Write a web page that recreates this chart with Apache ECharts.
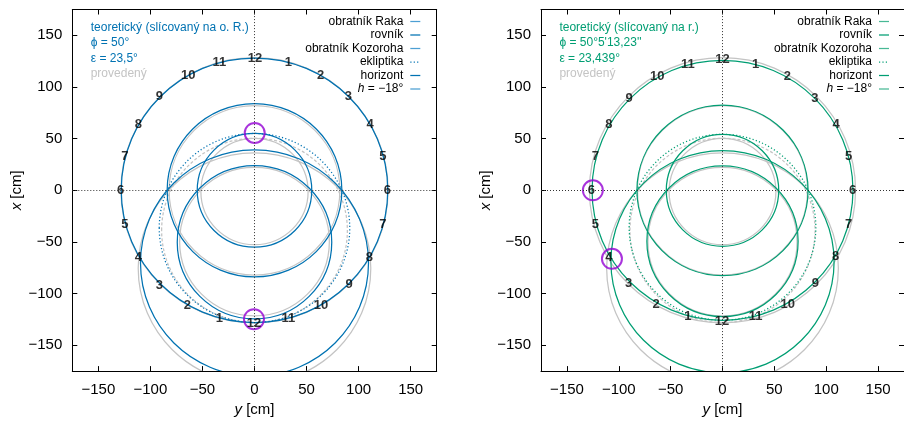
<!DOCTYPE html>
<html><head><meta charset="utf-8">
<script src="https://cdn.jsdelivr.net/npm/echarts@6/dist/echarts.min.js"></script>
<style>html,body{margin:0;padding:0;background:#fff}#c{width:904px;height:422px}</style>
</head><body><div id="c"></div>
<script>
// ---------- data (cm) ----------
const tickValues = [-150, -100, -50, 0, 50, 100, 150];
const circleNames = ['obratník Raka', 'rovník', 'obratník Kozoroha', 'ekliptika', 'horizont', 'h = −18°'];
// circle centres lie on the vertical (x) axis; [centre x, radius]
const leftCenters  = [0, 0, 0, -36.5, -70.4, -50.2];
const leftRadii    = [128.0, 83.9, 55.0, 91.5, 109.5, 74.2];
const rightCenters = [0, 0, 0, -35.8, -69.1, -49.3];
const rightRadii   = [125.8, 82.5, 54.2, 90.0, 107.6, 72.9];
const grayCenters  = [0, 0, -1.2, -38.8, -75.4, -49.7];
const grayRadii    = [128.3, 82.0, 51.5, 89.2, 111.7, 71.9];
const dottedFlags  = [0, 0, 0, 1, 0, 0];

// hour numerals, clockwise from top
const hourText = ['12','1','2','3','4','5','6','7','8','9','10','11','12','1','2','3','4','5','6','7','8','9','10','11'];
const leftHourY  = [0.5, 32.5, 63.6, 90.1, 111.0, 123.2, 127.6, 123.2, 110.3, 90.8, 63.9, 32.5, -0.5, -33.8, -64.6, -91.4, -111.6, -124.4, -128.5, -124.4, -111.6, -91.4, -63.6, -33.8];
const leftHourX  = [127.3, 123.4, 111.2, 90.4, 64.2, 33.1, -0.5, -33.5, -64.8, -91.2, -111.3, -124.1, -128.6, -124.1, -111.3, -91.7, -64.8, -33.5, -0.5, 33.1, 64.2, 90.4, 111.2, 123.4];
const rightHourY = [0.0, 32.0, 62.5, 89.0, 109.5, 121.5, 125.5, 121.5, 109.0, 89.5, 63.0, 32.0, -0.5, -33.5, -64.0, -90.5, -109.5, -122.5, -126.5, -122.5, -109.5, -90.0, -63.0, -33.5];
const rightHourX = [126.5, 122.0, 110.0, 89.0, 63.5, 33.0, -0.5, -33.0, -64.0, -90.0, -110.0, -122.5, -127.0, -122.5, -110.0, -90.0, -65.0, -33.0, -0.5, 33.0, 63.5, 89.0, 110.0, 122.0];

// highlighted spots [y, x]
const leftMarkY = [0.2, -0.5];
const leftMarkX = [55.5, -124.8];
const rightMarkY = [-125.0, -106.6];
const rightMarkX = [0.0, -66.3];

// ---------- build ----------
const BLUE = '#0072B2', GREEN = '#009E73', GRAY = '#c4c4c4';
const fmt = v => v < 0 ? '\u2212' + Math.abs(v) : String(v);

function circleRows(centers, radii) {
  return centers.map((c, i) => [0, c, radii[i], dottedFlags[i]]);
}
function circleRender(color, dash) {
  return function (params, api) {
    const p = api.coord([api.value(0), api.value(1)]);
    const s = api.size([api.value(2), api.value(2)]);
    const dotted = api.value(3) === 1;
    return {
      type: 'ellipse',
      shape: { cx: p[0], cy: p[1], rx: s[0], ry: s[1] },
      style: { fill: null, stroke: color, lineWidth: 1.25, lineDash: dotted ? dash : null }
    };
  };
}
function hourData(ys, xs) {
  return hourText.map((t, i) => ({ name: t, value: [ys[i], xs[i]] }));
}
function markData(ys, xs) { return ys.map((y, i) => [y, xs[i]]); }

const grids = [
  { left: 72.3, top: 9.5, width: 364.4, height: 364 },
  { left: 541, top: 9.5, width: 364.4, height: 364 }
];
const axisCommon = {
  type: 'value', min: -175, max: 175,
  axisLine: { show: true, onZero: false, lineStyle: { color: '#000', width: 1 } },
  axisTick: { show: true, inside: true, length: 5, lineStyle: { color: '#000' }, customValues: tickValues },
  splitLine: { show: false }
};
const xAxes = [], yAxes = [];
[0, 1].forEach(g => {
  xAxes.push(Object.assign({}, axisCommon, {
    gridIndex: g, position: 'bottom',
    axisLabel: { customValues: tickValues, formatter: fmt, fontSize: 15, color: '#000', fontFamily: 'Liberation Sans', margin: 11 },
    name: '{i|y} [cm]', nameLocation: 'middle', nameGap: 30,
    nameTextStyle: { fontSize: 15, color: '#000', fontFamily: 'Liberation Sans', rich: { i: { fontStyle: 'italic', fontSize: 15, fontFamily: 'Liberation Sans' } } }
  }));
  xAxes.push(Object.assign({}, axisCommon, { gridIndex: g, position: 'top', axisLabel: { show: false } }));
  yAxes.push(Object.assign({}, axisCommon, {
    gridIndex: g, position: 'left',
    axisLabel: { customValues: tickValues, formatter: fmt, fontSize: 15, color: '#000', fontFamily: 'Liberation Sans', margin: 10 },
    name: '{i|x} [cm]', nameLocation: 'middle', nameGap: 48,
    nameTextStyle: { fontSize: 15, color: '#000', fontFamily: 'Liberation Sans', rich: { i: { fontStyle: 'italic', fontSize: 15, fontFamily: 'Liberation Sans' } } }
  }));
  yAxes.push(Object.assign({}, axisCommon, { gridIndex: g, position: 'right', axisLabel: { show: false } }));
});

const series = [];
[0, 1].forEach(g => {
  const xi = g * 2, yi = g * 2;
  const color = g === 0 ? BLUE : GREEN;
  series.push({
    type: 'line', xAxisIndex: xi, yAxisIndex: yi, data: [], silent: true,
    markLine: { symbol: 'none', silent: true, label: { show: false },
      lineStyle: { type: [1, 2], color: '#333', width: 1 },
      data: [{ xAxis: 0 }, { yAxis: 0 }] }
  });
  series.push({
    type: 'custom', xAxisIndex: xi, yAxisIndex: yi, clip: true, silent: true,
    renderItem: circleRender(GRAY, [3, 2]), data: circleRows(grayCenters, grayRadii)
  });
  series.push({
    type: 'custom', xAxisIndex: xi, yAxisIndex: yi, clip: true, silent: true,
    renderItem: circleRender(color, [1.2, 2.2]),
    data: g === 0 ? circleRows(leftCenters, leftRadii) : circleRows(rightCenters, rightRadii)
  });
  series.push({
    type: 'scatter', xAxisIndex: xi, yAxisIndex: yi, symbolSize: 1, silent: true,
    itemStyle: { color: 'rgba(0,0,0,0)' },
    label: { show: true, position: 'inside', formatter: '{b}', color: '#000', fontWeight: 'bold', fontSize: 13, fontFamily: 'Liberation Sans' },
    data: g === 0 ? hourData(leftHourY, leftHourX) : hourData(rightHourY, rightHourX)
  });
  series.push({
    type: 'scatter', xAxisIndex: xi, yAxisIndex: yi, symbol: 'circle', symbolSize: 20, silent: true,
    itemStyle: { color: 'rgba(0,0,0,0)', borderColor: '#9400D3', borderWidth: 2 },
    data: g === 0 ? markData(leftMarkY, leftMarkX) : markData(rightMarkY, rightMarkX)
  });
});

// ---------- text annotations & legends ----------
const graphic = [];
const infoLeft = ['teoretický (slícovaný na o. R.)', 'ϕ = 50°', 'ε = 23,5°', 'provedený'];
const infoRight = ['teoretický (slícovaný na r.)', 'ϕ = 50°5\'13,23\'\'', 'ε = 23,439°', 'provedený'];
const legendLight = [1, 0, 1, 0, 0, 1];
[0, 1].forEach(g => {
  const gx = grids[g].left;
  const color = g === 0 ? BLUE : GREEN;
  const light = g === 0 ? '#4c9fd3' : '#48b895';
  const info = g === 0 ? infoLeft : infoRight;
  info.forEach((t, i) => {
    graphic.push({ type: 'text', left: gx + 18.4, top: 28.3 + 15.5 * i - 7,
      style: { text: t, fill: i === 3 ? GRAY : color, font: '12px "Liberation Sans"' } });
  });
  circleNames.forEach((n, i) => {
    const y = 21.5 + 13.5 * i;
    const xr = gx + 331;
    if (i === 5) {
      graphic.push({ type: 'text', x: xr, y: y, style: { text: '{i|h} = −18°', align: 'right', verticalAlign: 'middle', fill: '#000', font: '12px "Liberation Sans"', rich: { i: { fontStyle: 'italic', fontSize: 12, fontFamily: 'Liberation Sans' } } } });
    } else {
      graphic.push({ type: 'text', x: xr, y: y, style: { text: n, align: 'right', verticalAlign: 'middle', fill: '#000', font: '12px "Liberation Sans"' } });
    }
    graphic.push({ type: 'line', shape: { x1: xr + 7, y1: y, x2: xr + 17, y2: y },
      style: { stroke: legendLight[i] ? light : color, lineWidth: 1.25, lineDash: dottedFlags[i] ? [1.2, 2.2] : null } });
  });
});

const chart = echarts.init(document.getElementById('c'), null, { renderer: 'canvas' });
chart.setOption({
  animation: false,
  grid: grids,
  xAxis: xAxes,
  yAxis: yAxes,
  series: series,
  graphic: graphic
});
</script></body></html>
